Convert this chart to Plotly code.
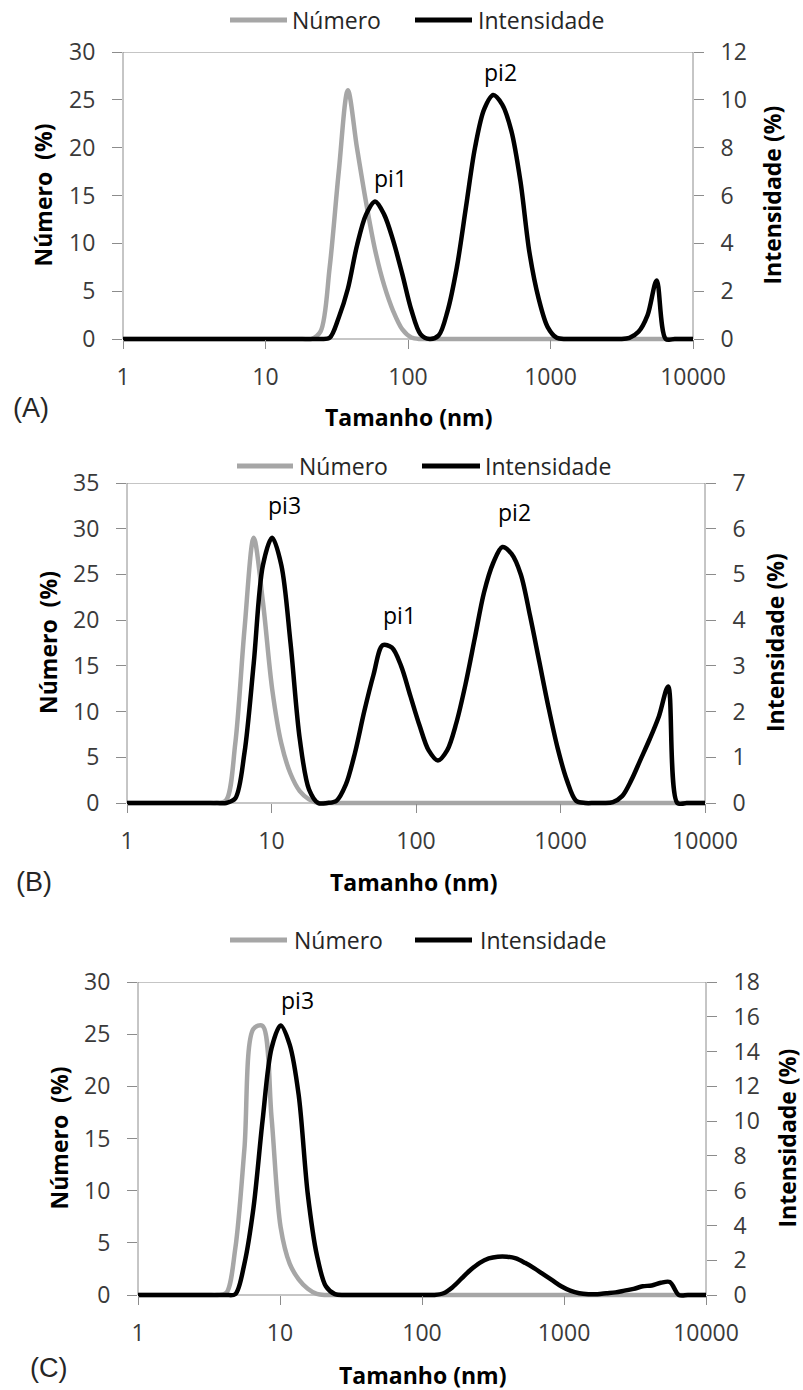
import plotly.graph_objects as go

# ---------------- data ----------------
sizes = [
    0.8332, 0.9649, 1.117, 1.294, 1.499, 1.736, 2.010, 2.328, 2.696, 3.122, 3.615, 4.187, 4.849,
    5.615, 6.503, 7.531, 8.721, 10.10, 11.70, 13.54, 15.69, 18.17, 21.04, 24.36, 28.21, 32.67,
    37.84, 43.82, 50.75, 58.77, 68.06, 78.82, 91.28, 105.7, 122.4, 141.8, 164.2, 190.1, 220.2,
    255.0, 295.3, 342.0, 396.1, 458.7, 531.2, 615.1, 712.4, 825.0, 955.4, 1106, 1281, 1484,
    1718, 1990, 2305, 2669, 3091, 3580, 4145, 4801, 5560, 6439, 7456, 8635, 10000,
]

numero_A = [
    0, 0, 0, 0, 0, 0, 0, 0, 0, 0, 0, 0, 0,
    0, 0, 0, 0, 0, 0, 0, 0, 0, 0, 0.8, 7.5, 17.5,
    26, 20.0, 14.3, 9.3, 5.6, 2.9, 1.0, 0.15, 0, 0, 0, 0, 0,
    0, 0, 0, 0, 0, 0, 0, 0, 0, 0, 0, 0, 0,
    0, 0, 0, 0, 0, 0, 0, 0, 0, 0, 0, 0, 0,
]
intensidade_A = [
    0, 0, 0, 0, 0, 0, 0, 0, 0, 0, 0, 0, 0,
    0, 0, 0, 0, 0, 0, 0, 0, 0, 0, 0, 0.05, 0.9,
    2.1, 3.9, 5.2, 5.75, 5.2, 4.1, 2.7, 1.2, 0.2, 0, 0.15, 1.2, 3.0,
    5.5, 8.0, 9.6, 10.2, 9.8, 8.7, 6.6, 3.6, 1.7, 0.5, 0.05, 0, 0,
    0, 0, 0, 0, 0, 0.05, 0.3, 1.0, 2.45, 0, 0, 0, 0,
]

numero_B = [
    0, 0, 0, 0, 0, 0, 0, 0, 0, 0, 0, 0, 0.3,
    6.5, 19, 29, 22, 12.5, 6.5, 3.2, 1.3, 0.4, 0, 0, 0, 0,
    0, 0, 0, 0, 0, 0, 0, 0, 0, 0, 0, 0, 0,
    0, 0, 0, 0, 0, 0, 0, 0, 0, 0, 0, 0, 0,
    0, 0, 0, 0, 0, 0, 0, 0, 0, 0, 0, 0, 0,
]
intensidade_B = [
    0, 0, 0, 0, 0, 0, 0, 0, 0, 0, 0, 0, 0,
    0.1, 1.1, 3.05, 5.2, 5.8, 5.2, 3.5, 1.4, 0.3, 0, 0, 0.05, 0.4,
    1.1, 2.0, 2.8, 3.45, 3.4, 3.0, 2.35, 1.7, 1.15, 0.93, 1.15, 1.75, 2.6,
    3.6, 4.6, 5.25, 5.6, 5.45, 5.0, 4.1, 3.1, 2.1, 1.2, 0.5, 0.05, 0,
    0, 0, 0.02, 0.15, 0.5, 0.95, 1.4, 1.9, 2.55, 0, 0, 0, 0,
]

numero_C = [
    0, 0, 0, 0, 0, 0, 0, 0, 0, 0, 0, 0.2, 4.5,
    14, 25.5, 25.8, 17, 6.5, 3, 1.5, 0.6, 0.1, 0, 0, 0, 0,
    0, 0, 0, 0, 0, 0, 0, 0, 0, 0, 0, 0, 0,
    0, 0, 0, 0, 0, 0, 0, 0, 0, 0, 0, 0, 0,
    0, 0, 0, 0, 0, 0, 0, 0, 0, 0, 0, 0, 0,
]
intensidade_C = [
    0, 0, 0, 0, 0, 0, 0, 0, 0, 0, 0, 0, 0.05,
    1.8, 5.0, 10.0, 14.2, 15.5, 14.4, 11.5, 5.8, 2.3, 0.5, 0.05, 0, 0,
    0, 0, 0, 0, 0, 0, 0, 0, 0, 0.1, 0.45, 0.95, 1.45,
    1.85, 2.1, 2.2, 2.2, 2.1, 1.85, 1.55, 1.2, 0.85, 0.5, 0.25, 0.1, 0.05,
    0.05, 0.1, 0.15, 0.25, 0.35, 0.5, 0.55, 0.7, 0.75, 0, 0, 0, 0,
]

x_tickvals = [1, 10, 100, 1000, 10000]
x_ticktext = ["1", "10", "100", "1000", "10000"]

series_names = ["Número", "Intensidade"]
peak_labels_A = ["pi1", "pi2"]
peak_labels_B = ["pi3", "pi1", "pi2"]
peak_labels_C = ["pi3"]

# ---------------- layout / style ----------------
W, H = 803, 1390
GRAY = "#A6A6A6"
AXIS = "#8C8C8C"
TXT = "#3A3A3A"
FONT = "Open Sans"
EXT = 3  # px the plotting area extends below y=0 so thick baseline lines are not cut

panels = [
    dict(tag="(A)", num=numero_A, inten=intensidade_A, lmax=30, ldt=5, rmax=12, rdt=2,
         x0=123, x1=693, top=52, base=339,
         leg_y=20, leg=(230, 287, 290, 415, 472, 476),
         xtitle=(408, 417), ltitle=42, rtitle=771, tagpos=(31, 408),
         peaks=list(zip(peak_labels_A, [1.874, 2.646], [16.8, 27.9]))),
    dict(tag="(B)", num=numero_B, inten=intensidade_B, lmax=35, ldt=5, rmax=7, rdt=1,
         x0=127, x1=705, top=483, base=803,
         leg_y=466, leg=(237, 293, 297, 422, 480, 483),
         xtitle=(414, 882), ltitle=48, rtitle=775, tagpos=(34, 882),
         peaks=list(zip(peak_labels_B, [1.087, 1.889, 2.685], [32.6, 20.6, 31.8]))),
    dict(tag="(C)", num=numero_C, inten=intensidade_C, lmax=30, ldt=5, rmax=18, rdt=2,
         x0=138, x1=706, top=982, base=1295,
         leg_y=940, leg=(230, 287, 292, 415, 472, 478),
         xtitle=(422, 1375), ltitle=58, rtitle=786, tagpos=(48, 1368),
         peaks=list(zip(peak_labels_C, [1.12], [28.3]))),
]

fig = go.Figure()
layout = dict(
    width=W, height=H, autosize=False,
    margin=dict(l=0, r=0, t=0, b=0, pad=0, autoexpand=False),
    paper_bgcolor="white", plot_bgcolor="white", showlegend=False,
    font=dict(family=FONT, size=23, color=TXT),
    annotations=[], shapes=[],
)

def py(p):
    return 1 - p / H

def pxf(p):
    return p / W

tickfont = dict(family=FONT, size=23, color=TXT)

for i, p in enumerate(panels):
    xn = "x" if i == 0 else f"x{i + 1}"
    yl = "y" if i == 0 else f"y{2 * i + 1}"
    yr = f"y{2 * i + 2}"
    xkey = "xaxis" if i == 0 else f"xaxis{i + 1}"
    ylkey = "yaxis" if i == 0 else f"yaxis{2 * i + 1}"
    yrkey = f"yaxis{2 * i + 2}"

    span = p["base"] - p["top"]
    dl = EXT * p["lmax"] / span
    dr = EXT * p["rmax"] / span

    fig.add_trace(go.Scatter(x=sizes, y=p["num"], xaxis=xn, yaxis=yl, mode="lines",
                             name=series_names[0],
                             line=dict(color=GRAY, width=4.5, shape="spline", smoothing=0.9)))
    fig.add_trace(go.Scatter(x=sizes, y=p["inten"], xaxis=xn, yaxis=yr, mode="lines",
                             name=series_names[1],
                             line=dict(color="black", width=4.5, shape="spline", smoothing=0.9)))

    layout[xkey] = dict(
        type="log", range=[0, 4], domain=[pxf(p["x0"]), pxf(p["x1"])],
        anchor="free", position=py(p["base"]), automargin=False,
        tickvals=x_tickvals, ticktext=x_ticktext, ticks="outside", ticklen=9,
        tickcolor=AXIS, tickwidth=1, showline=False, showgrid=False, zeroline=False,
        tickfont=tickfont, ticklabelstandoff=8,
    )
    layout[ylkey] = dict(
        domain=[py(p["base"] + EXT), py(p["top"])], anchor=xn, automargin=False,
        range=[-dl, p["lmax"]], tickvals=list(range(0, p["lmax"] + 1, p["ldt"])),
        ticks="outside", ticklen=10, tickcolor=AXIS, tickwidth=1,
        showline=False, showgrid=False, zeroline=False, tickfont=tickfont,
        ticklabelstandoff=12,
    )
    layout[yrkey] = dict(
        overlaying=yl, side="right", anchor=xn, automargin=False,
        range=[-dr, p["rmax"]], tickvals=list(range(0, p["rmax"] + 1, p["rdt"])),
        ticks="outside", ticklen=10, tickcolor=AXIS, tickwidth=1,
        showline=False, showgrid=False, zeroline=False, tickfont=tickfont,
        ticklabelstandoff=12,
    )

    # plot-area border (axis lines)
    layout["shapes"].append(dict(type="rect", xref=f"{xn} domain", yref=yl,
                                 x0=0, x1=1, y0=0, y1=p["lmax"], layer="below",
                                 line=dict(color=AXIS, width=1)))

    # legend (drawn by hand so the sample lines have the reference's length)
    g0, g1, gt, b0, b1, bt = p["leg"]
    ly = py(p["leg_y"])
    layout["shapes"].append(dict(type="line", xref="paper", yref="paper",
                                 x0=pxf(g0), x1=pxf(g1), y0=ly, y1=ly,
                                 line=dict(color=GRAY, width=5)))
    layout["shapes"].append(dict(type="line", xref="paper", yref="paper",
                                 x0=pxf(b0), x1=pxf(b1), y0=ly, y1=ly,
                                 line=dict(color="black", width=5)))
    for tx, label in ((gt, series_names[0]), (bt, series_names[1])):
        layout["annotations"].append(dict(
            x=pxf(tx), y=ly, xref="paper", yref="paper", text=label, showarrow=False,
            xanchor="left", yanchor="middle", font=dict(family=FONT, size=23, color="#262626")))

    # axis titles
    layout["annotations"].append(dict(
        x=pxf(p["xtitle"][0]), y=py(p["xtitle"][1]), xref="paper", yref="paper",
        text="<b>Tamanho (nm)</b>", showarrow=False, xanchor="center", yanchor="middle",
        font=dict(family=FONT, size=23, color="black")))
    mid = py((p["top"] + p["base"]) / 2)
    layout["annotations"].append(dict(
        x=pxf(p["ltitle"]), y=mid, xref="paper", yref="paper",
        text="<b>Número\u00a0 (%)</b>", showarrow=False, textangle=-90,
        xanchor="center", yanchor="middle", font=dict(family=FONT, size=23, color="black")))
    layout["annotations"].append(dict(
        x=pxf(p["rtitle"]), y=mid, xref="paper", yref="paper",
        text="<b>Intensidade (%)</b>", showarrow=False, textangle=-90,
        xanchor="center", yanchor="middle", font=dict(family=FONT, size=23, color="black")))
    # panel tag
    layout["annotations"].append(dict(
        x=pxf(p["tagpos"][0]), y=py(p["tagpos"][1]), xref="paper", yref="paper",
        text=p["tag"], showarrow=False, xanchor="center", yanchor="middle",
        font=dict(family="Liberation Sans", size=27, color="#262626")))
    # peak labels
    for txt, lx, lyv in p["peaks"]:
        layout["annotations"].append(dict(
            x=lx, y=lyv, xref=xn, yref=yl, text=txt, showarrow=False,
            xanchor="center", yanchor="middle", font=dict(family=FONT, size=23, color="black")))

fig.update_layout(**layout)
fig.write_html("out.html")
